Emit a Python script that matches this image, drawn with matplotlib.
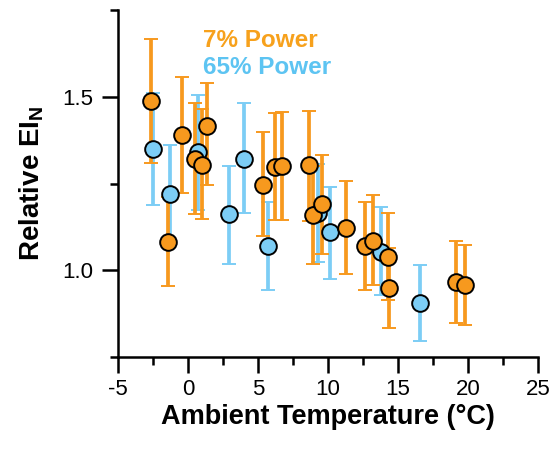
import matplotlib
matplotlib.use("Agg")
import matplotlib.pyplot as plt
from matplotlib.ticker import MultipleLocator

plt.rcParams['font.family'] = ['Liberation Sans', 'DejaVu Sans']
plt.rcParams['mathtext.fontset'] = 'custom'
plt.rcParams['mathtext.rm'] = 'Liberation Sans'
plt.rcParams['mathtext.bf'] = 'Liberation Sans:bold'

# 7% Power series
temp_7 = [-2.64, -1.41, -0.45, 0.50, 0.98, 1.38, 5.38, 6.21, 6.74, 8.66, 8.95, 9.55,
          11.29, 12.64, 13.19, 14.31, 14.36, 19.12, 19.79]
rel_7 = [1.488, 1.082, 1.391, 1.322, 1.303, 1.415, 1.247, 1.298, 1.300, 1.303, 1.159, 1.190,
         1.121, 1.070, 1.085, 1.038, 0.949, 0.966, 0.957]
err_lo_7 = [0.178, 0.128, 0.168, 0.160, 0.156, 0.170, 0.149, 0.154, 0.156, 0.161, 0.140, 0.144,
            0.133, 0.128, 0.128, 0.124, 0.115, 0.117, 0.116]
err_hi_7 = [0.178, 0.130, 0.165, 0.161, 0.161, 0.125, 0.150, 0.156, 0.157, 0.157, 0.140, 0.142,
            0.137, 0.127, 0.131, 0.126, 0.115, 0.119, 0.115]

# 65% Power series
temp_65 = [-2.48, -1.29, 0.70, 2.93, 4.02, 5.69, 9.30, 10.14, 13.76, 16.57]
rel_65 = [1.348, 1.219, 1.340, 1.161, 1.322, 1.070, 1.165, 1.111, 1.053, 0.907]
err_lo_65 = [0.160, 0.142, 0.165, 0.142, 0.158, 0.128, 0.140, 0.135, 0.125, 0.111]
err_hi_65 = [0.162, 0.142, 0.165, 0.139, 0.159, 0.127, 0.140, 0.129, 0.128, 0.107]

orange = '#F7991E'
blue = '#7CCDF5'

fig = plt.figure(figsize=(5.52, 4.55), dpi=100)
ax = fig.add_axes([118/552, 1 - 357/455, 420/552, 347/455])

for x, y, lo, hi, c in [(temp_65, rel_65, err_lo_65, err_hi_65, blue),
                        (temp_7, rel_7, err_lo_7, err_hi_7, orange)]:
    ax.errorbar(x, y, yerr=[lo, hi], fmt='o', color=c, ecolor=c, elinewidth=2.7,
                capsize=5, capthick=2.7, markersize=12, markerfacecolor=c,
                markeredgecolor='black', markeredgewidth=1.4)

ax.set_xlim(-5, 25)
ax.set_ylim(0.75, 1.75)
ax.xaxis.set_major_locator(MultipleLocator(5))
ax.xaxis.set_minor_locator(MultipleLocator(2.5))
ax.set_yticks([1.0, 1.5])
ax.set_yticks([0.75, 1.25, 1.75], minor=True)
ax.set_yticklabels(['1.0', '1.5'])
ax.set_xticks([-5, 0, 5, 10, 15, 20, 25])
ax.set_xticklabels(['-5', '0', '5', '10', '15', '20', '25'])

for s in ['top', 'right']:
    ax.spines[s].set_visible(False)
for s in ['left', 'bottom']:
    ax.spines[s].set_linewidth(1.8)

ax.tick_params(axis='both', which='major', direction='out', length=11.5, width=1.8,
               labelsize=16)
ax.tick_params(axis='x', which='major', pad=4)
ax.tick_params(axis='y', which='major', pad=6)
ax.tick_params(axis='both', which='minor', direction='out', length=5.5, width=1.8)

ax.set_xlabel('Ambient Temperature (°C)', fontsize=19.5, fontweight='bold', labelpad=3)
ax.set_ylabel(r'Relative EI$_{\mathbf{N}}$', fontsize=20, fontweight='bold', labelpad=12)

ax.text(0.202, 0.913, '7% Power', transform=ax.transAxes, color='#F7A11C',
        fontsize=17.5, fontweight='bold', va='center', ha='left')
ax.text(0.202, 0.833, '65% Power', transform=ax.transAxes, color='#5DC4F2',
        fontsize=17.5, fontweight='bold', va='center', ha='left')

fig.savefig('out.png', dpi=100)
